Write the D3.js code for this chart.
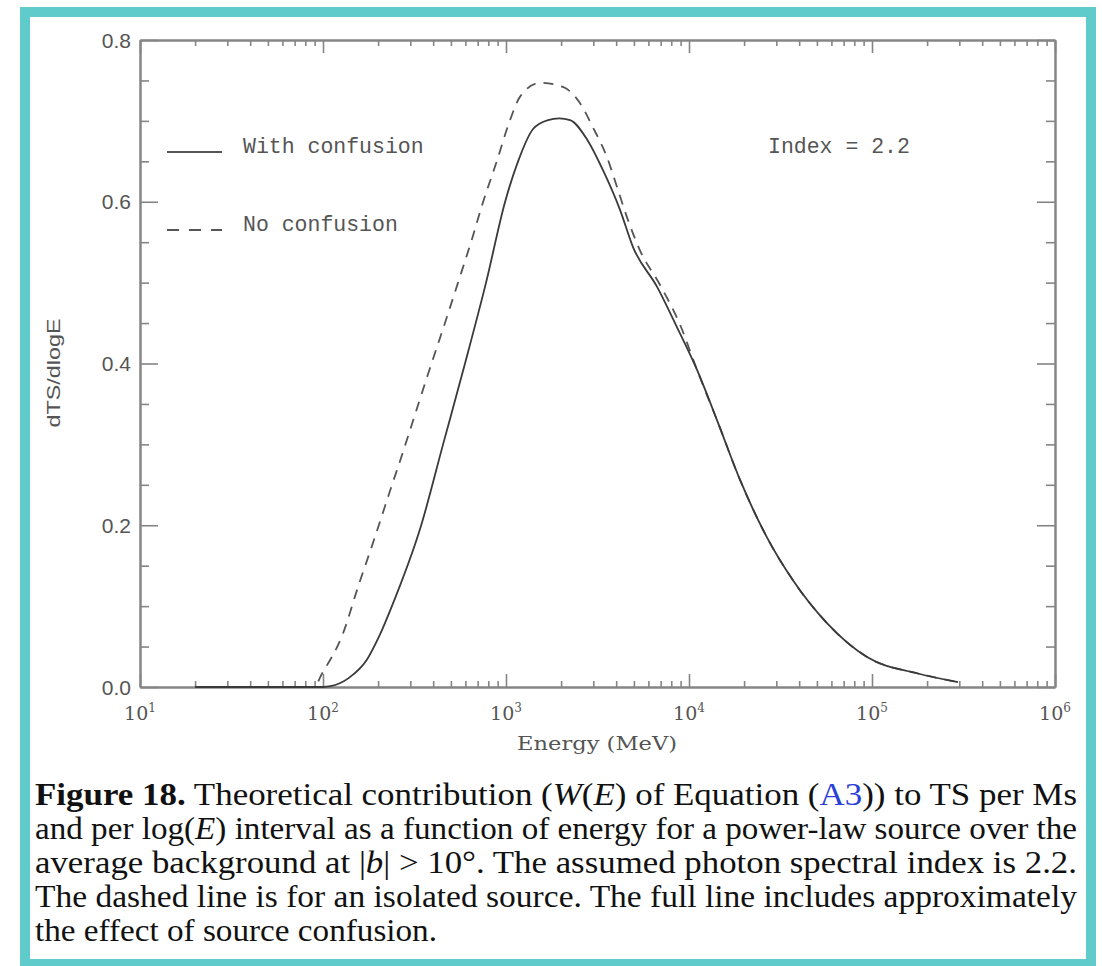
<!DOCTYPE html>
<html><head><meta charset="utf-8">
<script src="https://cdn.jsdelivr.net/npm/d3@7"></script>
<style>html,body{margin:0;padding:0;background:#fff;}svg{display:block;}</style>
</head><body>
<svg id="c" width="1102" height="966"></svg>
<script>
// ---- data ----
const energyWith = [20, 100, 110, 138, 174, 204, 238, 344, 453, 597, 778, 989, 1164, 1406, 1698, 1950, 2239, 2773, 3388, 4198, 4943, 6683, 8590, 11066, 14223, 19011, 26669, 36983, 56754, 93972, 176198, 295121];
const valueWith  = [0, 0, 0.001, 0.011, 0.034, 0.064, 0.100, 0.200, 0.300, 0.400, 0.500, 0.600, 0.650, 0.690, 0.701, 0.703, 0.701, 0.677, 0.639, 0.590, 0.544, 0.495, 0.445, 0.392, 0.330, 0.256, 0.185, 0.132, 0.079, 0.037, 0.017, 0.006];
const energyNo = [20, 89, 99, 129, 155, 192, 232, 274, 330, 375, 453, 547, 652, 748, 893, 1052, 1194, 1535, 2046, 2535, 2985, 3565, 4046, 4581, 5395, 6950, 8933, 11066, 14223, 19011, 26669, 36983, 56754, 93972, 176198, 295121];
const valueNo  = [0, 0, 0.017, 0.067, 0.123, 0.185, 0.242, 0.291, 0.348, 0.387, 0.443, 0.500, 0.554, 0.599, 0.651, 0.701, 0.730, 0.747, 0.742, 0.722, 0.692, 0.655, 0.618, 0.581, 0.540, 0.497, 0.448, 0.392, 0.330, 0.256, 0.185, 0.132, 0.079, 0.037, 0.017, 0.006];
const xDecades = [1, 2, 3, 4, 5, 6];
const yTickLabels = ["0.0", "0.2", "0.4", "0.6", "0.8"];
const yTickValues = [0, 0.2, 0.4, 0.6, 0.8];
const legendLabels = ["With confusion", "No confusion"];
const annotation = "Index = 2.2";
const xTitle = "Energy (MeV)";
const yTitle = "dTS/dlogE";

const svg = d3.select("#c");
const L = 140, R = 1055, T = 40, B = 687;
const x = d3.scaleLog().domain([10, 1e6]).range([L, R]);
const y = d3.scaleLinear().domain([0, 0.8]).range([B, T]);
const axisCol = "#858585", lineCol = "#3a3a3a", textCol = "#555";
const SANS = "'Liberation Sans', Arial, Helvetica, sans-serif";
const SERIF = "'Liberation Serif', 'Times New Roman', Times, serif";
const MONO = "'Liberation Mono', 'Courier New', monospace";
const AXSERIF = "'DejaVu Serif', serif";

// teal frame
svg.append("rect").attr("x", 25).attr("y", 12).attr("width", 1066).attr("height", 952)
  .attr("fill", "none").attr("stroke", "#5fcbcb").attr("stroke-width", 10);

// axes
const majorsX = xDecades.map(d => Math.pow(10, d));
const minorsX = x.ticks().filter(v => !majorsX.some(m => Math.abs(m - v) < 1e-6));
const minorsY = d3.range(0, 0.8001, 0.05).filter(v => !yTickValues.some(m => Math.abs(m - v) < 1e-6));

function styleAxis(g){ g.select(".domain").attr("stroke", axisCol).attr("stroke-width", 2);
  g.selectAll(".tick line").attr("stroke", axisCol).attr("stroke-width", 1.6); g.selectAll("text").remove(); }

svg.append("g").attr("transform", `translate(0,${B})`).call(d3.axisBottom(x).tickValues(majorsX).tickSizeInner(-13).tickSizeOuter(0)).call(styleAxis);
svg.append("g").attr("transform", `translate(0,${B})`).call(d3.axisBottom(x).tickValues(minorsX).tickSizeInner(-6).tickSizeOuter(0)).call(styleAxis);
svg.append("g").attr("transform", `translate(0,${T})`).call(d3.axisTop(x).tickValues(majorsX).tickSizeInner(-13).tickSizeOuter(0)).call(styleAxis);
svg.append("g").attr("transform", `translate(0,${T})`).call(d3.axisTop(x).tickValues(minorsX).tickSizeInner(-6).tickSizeOuter(0)).call(styleAxis);
svg.append("g").attr("transform", `translate(${L},0)`).call(d3.axisLeft(y).tickValues(yTickValues).tickSizeInner(-18).tickSizeOuter(0)).call(styleAxis);
svg.append("g").attr("transform", `translate(${L},0)`).call(d3.axisLeft(y).tickValues(minorsY).tickSizeInner(-9).tickSizeOuter(0)).call(styleAxis);
svg.append("g").attr("transform", `translate(${R},0)`).call(d3.axisRight(y).tickValues(yTickValues).tickSizeInner(-18).tickSizeOuter(0)).call(styleAxis);
svg.append("g").attr("transform", `translate(${R},0)`).call(d3.axisRight(y).tickValues(minorsY).tickSizeInner(-9).tickSizeOuter(0)).call(styleAxis);

// y tick labels
svg.append("g").selectAll("text").data(yTickValues).join("text")
  .attr("x", L - 9).attr("y", d => y(d)).attr("dy", "0.36em").attr("text-anchor", "end")
  .style("font-family", SANS).attr("font-size", 21).attr("fill", textCol)
  .text((d, i) => yTickLabels[i]);

// x tick labels
const xl = svg.append("g").selectAll("text").data(xDecades).join("text")
  .attr("x", d => x(Math.pow(10, d))).attr("y", 720).attr("text-anchor", "middle")
  .style("font-family", AXSERIF).attr("font-size", 19).attr("fill", textCol);
xl.append("tspan").text("10");
xl.append("tspan").attr("dy", -8).attr("font-size", 12).text(d => d);

// axis titles
svg.append("text").attr("x", 597).attr("y", 750).attr("text-anchor", "middle")
  .style("font-family", AXSERIF).attr("font-size", 18).attr("fill", textCol)
  .attr("textLength", 160).attr("lengthAdjust", "spacingAndGlyphs").text(xTitle);
svg.append("text").attr("transform", "translate(60,373) rotate(-90)").attr("text-anchor", "middle")
  .style("font-family", SANS).attr("font-size", 18).attr("fill", textCol)
  .attr("textLength", 109).attr("lengthAdjust", "spacingAndGlyphs").text(yTitle);

// curves
const line = d3.line().x(d => x(d[0])).y(d => y(d[1])).curve(d3.curveMonotoneX);
svg.append("path").datum(energyNo.map((e, i) => [e, valueNo[i]])).attr("d", line)
  .attr("fill", "none").attr("stroke", "#555").attr("stroke-width", 1.8).attr("stroke-dasharray", "10,8");
svg.append("path").datum(energyWith.map((e, i) => [e, valueWith[i]])).attr("d", line)
  .attr("fill", "none").attr("stroke", lineCol).attr("stroke-width", 1.8);

// legend
const leg = [{y: 152, dash: null}, {y: 230, dash: "12,10"}];
leg.forEach((l, i) => {
  svg.append("line").attr("x1", 167).attr("x2", 222).attr("y1", l.y).attr("y2", l.y)
    .attr("stroke", "#555").attr("stroke-width", 1.8).attr("stroke-dasharray", l.dash);
  svg.append("text").attr("x", 243).attr("y", l.y + 1).style("font-family", MONO)
    .attr("font-size", 21.5).attr("fill", textCol).text(legendLabels[i]);
});
svg.append("text").attr("x", 768).attr("y", 153).style("font-family", MONO)
  .attr("font-size", 21.5).attr("fill", textCol).text(annotation);

// caption
const cap = [
  {y: 805, len: 1042, parts: [["Figure 18.", "b"], [" Theoretical contribution (", ""], ["W", "i"], ["(", ""], ["E", "i"], [") of Equation (", ""], ["A3", "link"], [")) to TS per Ms", ""]]},
  {y: 839, len: 1042, parts: [["and per log(", ""], ["E", "i"], [") interval as a function of energy for a power-law source over the", ""]]},
  {y: 873, len: 1042, parts: [["average background at |", ""], ["b", "i"], ["| > 10°. The assumed photon spectral index is 2.2.", ""]]},
  {y: 907, len: 1042, parts: [["The dashed line is for an isolated source. The full line includes approximately", ""]]},
  {y: 941, len: 402, parts: [["the effect of source confusion.", ""]]}
];
cap.forEach(c => {
  const t = svg.append("text").attr("x", 35).attr("y", c.y)
    .style("font-family", SERIF).attr("font-size", 31).attr("fill", "#111")
    .attr("textLength", c.len).attr("lengthAdjust", "spacingAndGlyphs");
  c.parts.forEach(p => {
    const s = t.append("tspan").text(p[0]);
    if (p[1] === "b") s.attr("font-weight", "bold");
    if (p[1] === "i") s.attr("font-style", "italic");
    if (p[1] === "link") s.attr("fill", "#2a3fd8");
  });
});
</script>
</body></html>
